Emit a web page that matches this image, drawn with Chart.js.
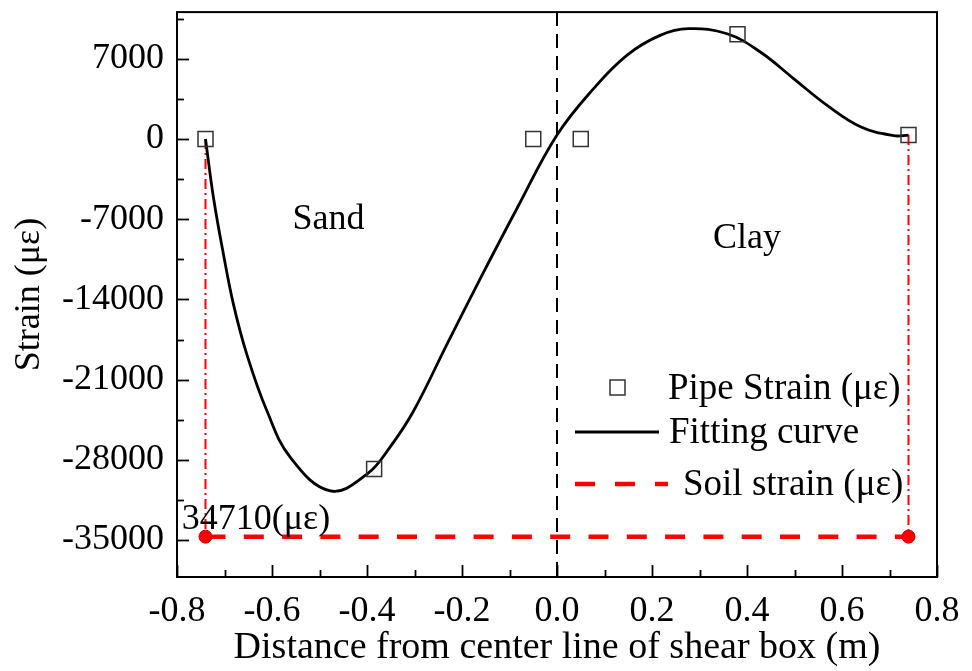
<!DOCTYPE html>
<html>
<head>
<meta charset="utf-8">
<script src="https://cdn.jsdelivr.net/npm/chart.js@4.4.1/dist/chart.umd.min.js"></script>
<style>
  html, body { margin: 0; padding: 0; background: #fff; }
  #wrap { width: 972px; height: 671px; }
</style>
</head>
<body>
<div id="wrap"><canvas id="strainChart" width="972" height="671"></canvas></div>
<script>
// measured pipe strain points
const pipeX = [-0.74, -0.385, -0.05, 0.05, 0.38, 0.74];
const pipeStrain = [0, -28800, 0, 0, 9140, 350];

// fitting curve
const fitX = [-0.74, -0.723, -0.702, -0.681, -0.653, -0.611, -0.561, -0.477, -0.4, -0.35, -0.302, -0.232, -0.161, -0.084, 0, 0.077, 0.147, 0.217, 0.277, 0.358, 0.428, 0.498, 0.568, 0.639, 0.709, 0.74];
const fitStrain = [0, -5170, -10100, -14450, -18800, -23700, -27810, -30710, -29250, -26800, -23740, -17940, -12140, -6040, 350, 4400, 7310, 9050, 9630, 9190, 7600, 5280, 2960, 1070, 290, 350];

// soil strain
const soilX = [-0.74, 0.74];
const soilStrain = [-34710, -34710];

const xTicks = [-0.8, -0.6, -0.4, -0.2, 0, 0.2, 0.4, 0.6, 0.8];
const yTicks = [-35000, -28000, -21000, -14000, -7000, 0, 7000];
const xMin = -0.8, xMax = 0.8;
const yMin = -38230, yMax = 11080;

const FONT = "'Liberation Serif', 'Times New Roman', serif";
const FS = 36;

const toPoints = (xs, ys) => xs.map((x, i) => ({ x: x, y: ys[i] }));

const leftDrop = [{ x: pipeX[0], y: pipeStrain[0] }, { x: soilX[0], y: soilStrain[0] }];
const rightDrop = [{ x: pipeX[5], y: pipeStrain[5] }, { x: soilX[1], y: soilStrain[1] }];
const centerLine = [{ x: 0, y: yMax }, { x: 0, y: yMin }];

const decor = {
    id: 'decor',
    afterDraw(chart) {
        const ctx = chart.ctx;
        const { left, right, top, bottom } = chart.chartArea;
        const xs = chart.scales.x, ys = chart.scales.y;
        ctx.save();
        ctx.strokeStyle = '#000';
        ctx.lineWidth = 2;
        ctx.strokeRect(left, top, right - left, bottom - top);

        // inward ticks, major + minor
        ctx.lineWidth = 1.8;
        for (let k = -11; k <= 3; k++) {
            const v = k * 3500;
            if (v < yMin || v > yMax) continue;
            const py = Math.round(ys.getPixelForValue(v)) + 0.5;
            const len = k % 2 === 0 ? 12 : 7;
            ctx.beginPath();
            ctx.moveTo(left, py);
            ctx.lineTo(left + len, py);
            ctx.stroke();
        }
        for (let k = -8; k <= 8; k++) {
            const px = Math.round(xs.getPixelForValue(k / 10)) + 0.5;
            const len = k % 2 === 0 ? 12 : 7;
            ctx.beginPath();
            ctx.moveTo(px, bottom);
            ctx.lineTo(px, bottom - len);
            ctx.stroke();
        }

        // region labels
        ctx.fillStyle = '#000';
        ctx.font = FS + 'px ' + FONT;
        ctx.textBaseline = 'alphabetic';
        ctx.textAlign = 'center';
        ctx.fillText('Sand', xs.getPixelForValue(-0.481), ys.getPixelForValue(-7890));
        ctx.fillText('Clay', xs.getPixelForValue(0.40), ys.getPixelForValue(-9540));
        ctx.textAlign = 'left';
        ctx.fillText('34710(με)', xs.getPixelForValue(-0.79), ys.getPixelForValue(-34000));

        // legend
        ctx.font = '37px ' + FONT;
        ctx.lineWidth = 1.5;
        ctx.strokeStyle = '#333';
        ctx.strokeRect(610, 380, 15, 15);
        ctx.fillText('Pipe Strain (με)', 668, 399);

        ctx.strokeStyle = '#000';
        ctx.lineWidth = 2.8;
        ctx.beginPath();
        ctx.moveTo(575, 432);
        ctx.lineTo(659, 432);
        ctx.stroke();
        ctx.fillText('Fitting curve', 669, 443);

        ctx.strokeStyle = 'red';
        ctx.lineWidth = 4.5;
        ctx.setLineDash([20, 20]);
        ctx.beginPath();
        ctx.moveTo(575, 484);
        ctx.lineTo(668, 484);
        ctx.stroke();
        ctx.setLineDash([]);
        ctx.fillText('Soil strain (με)', 683, 495);
        ctx.restore();
    }
};

const ctx = document.getElementById('strainChart').getContext('2d');
const strainChart = new Chart(ctx, {
    type: 'scatter',
    data: {
        datasets: [
            {
                label: 'Pipe Strain (με)',
                data: toPoints(pipeX, pipeStrain),
                pointStyle: 'rect',
                pointRadius: 10.6,
                borderColor: '#333',
                backgroundColor: 'transparent',
                borderWidth: 1.5,
                showLine: false,
                order: 0
            },
            {
                label: 'Fitting curve',
                data: toPoints(fitX, fitStrain),
                showLine: true,
                borderColor: '#000',
                borderWidth: 2.8,
                pointRadius: 0,
                tension: 0.4,
                order: 1
            },
            {
                label: 'Soil strain (με)',
                data: toPoints(soilX, soilStrain),
                showLine: true,
                borderColor: 'red',
                borderWidth: 4.5,
                borderDash: [20, 18.3],
                pointRadius: 6.5,
                pointBackgroundColor: 'red',
                pointBorderColor: '#c00',
                pointBorderWidth: 1,
                order: 2
            },
            {
                data: leftDrop,
                showLine: true,
                borderColor: 'red',
                borderWidth: 2,
                borderDash: [10, 4, 2, 4],
                pointRadius: 0,
                order: 3
            },
            {
                data: rightDrop,
                showLine: true,
                borderColor: 'red',
                borderWidth: 2,
                borderDash: [10, 4, 2, 4],
                pointRadius: 0,
                order: 3
            },
            {
                data: centerLine,
                showLine: true,
                borderColor: '#000',
                borderWidth: 2,
                borderDash: [14, 8],
                pointRadius: 0,
                order: 4
            }
        ]
    },
    options: {
        responsive: false,
        animation: false,
        layout: { padding: { top: 10, right: 35, left: 0, bottom: 0 } },
        plugins: {
            legend: { display: false },
            tooltip: { enabled: false }
        },
        scales: {
            x: {
                type: 'linear',
                min: xMin,
                max: xMax,
                afterBuildTicks: function (s) { s.ticks = xTicks.map(v => ({ value: v })); },
                afterFit: function (s) { s.height = 94; s.paddingLeft = 0; s.paddingRight = 0; },
                grid: { display: false, drawTicks: false },
                border: { display: false },
                ticks: {
                    color: '#000',
                    font: { family: FONT, size: FS },
                    padding: 13,
                    maxRotation: 0,
                    autoSkip: false,
                    callback: function (value) { return value.toFixed(1); }
                },
                title: {
                    display: true,
                    text: 'Distance from center line of shear box (m)',
                    color: '#000',
                    font: { family: FONT, size: 38 },
                    padding: { top: 0, bottom: 0 }
                }
            },
            y: {
                type: 'linear',
                min: yMin,
                max: yMax,
                afterBuildTicks: function (s) { s.ticks = yTicks.map(v => ({ value: v })); },
                afterFit: function (s) { s.width = 177; s.paddingTop = 0; s.paddingBottom = 0; },
                grid: { display: false, drawTicks: false },
                border: { display: false },
                ticks: {
                    color: '#000',
                    font: { family: FONT, size: FS },
                    padding: 13,
                    autoSkip: false,
                    callback: function (value) { return String(value); }
                },
                title: {
                    display: true,
                    text: 'Strain (με)',
                    color: '#000',
                    font: { family: FONT, size: FS },
                    padding: { top: 8, bottom: 0 }
                }
            }
        }
    },
    plugins: [decor]
});
</script>
</body>
</html>
